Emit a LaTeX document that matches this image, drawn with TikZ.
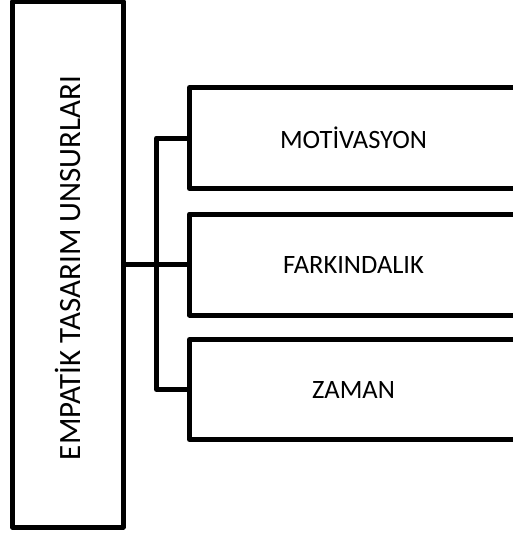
\documentclass[tikz,border=0pt]{standalone}
\usepackage{fontspec}
\setmainfont{Carlito}
\begin{document}
\begin{tikzpicture}[x=1pt,y=-1pt,
  line width=5pt, line join=round,
  mainbox/.style={draw, line width=5pt, minimum width=110.5pt, minimum height=525.5pt, inner sep=0pt},
  itembox/.style={draw, line width=5pt, minimum width=328pt, minimum height=101pt, inner sep=0pt, font=\fontsize{26.5}{30}\selectfont}]
\useasboundingbox (0,0) rectangle (512,535);
\node[mainbox] (L) at (67.75,264.5) {};
\node[rotate=90, font=\fontsize{31}{35}\selectfont] (Lt) at (67.5,268) {EMPATİK TASARIM UNSURLARI};
\node[itembox] (b1) at (353.5,138) {MOTİVASYON};
\node[itembox] (b2) at (353.5,264.5) {FARKINDALIK};
\node[itembox, minimum height=100pt] (b3) at (353.5,389.5) {ZAMAN};
\coordinate (j) at (156.5,264.5);
\draw (L.east) -- (j) -- (b2.west);
\draw (b1.west) -| (j);
\draw (b3.west) -| (j);
\end{tikzpicture}
\end{document}
